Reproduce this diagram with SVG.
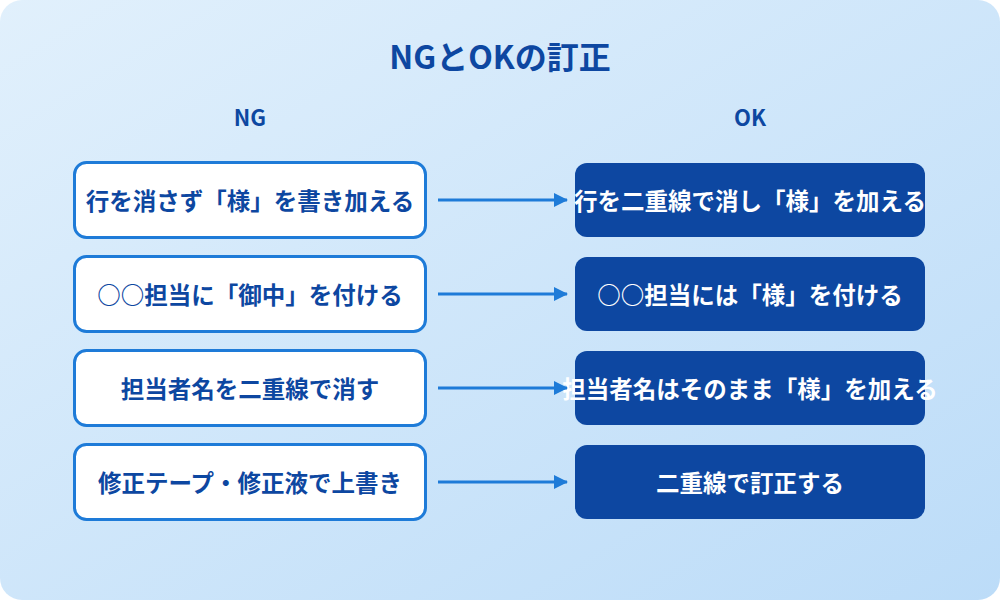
<svg xmlns="http://www.w3.org/2000/svg" width="1000" height="600" viewBox="0 0 1000 600">
<defs>
<linearGradient id="bg" x1="0" y1="0" x2="1" y2="1"><stop offset="0" stop-color="#e1f0fc"/><stop offset="1" stop-color="#bcdcf8"/></linearGradient>
<marker id="ah" markerWidth="14" markerHeight="14" refX="13" refY="7" orient="auto" markerUnits="userSpaceOnUse"><path d="M0,0 L14,7 L0,14 z" fill="#1e7bd8"/></marker>
<style>
text{font-family:"Noto Sans CJK JP","Noto Sans",sans-serif;font-weight:bold;text-anchor:middle;dominant-baseline:central}
.ng rect{fill:#fff;stroke:#1e7bd8;stroke-width:3}
.ng text{fill:#0d47a1;font-size:23.5px}
.ok rect{fill:#0d47a1}
.ok text{fill:#fff;font-size:23.5px}
.hd{fill:#0d47a1;font-size:22px}
#conn line{stroke:#1e7bd8;stroke-width:3;marker-end:url(#ah)}
</style>
</defs>
<rect width="1000" height="600" rx="22" fill="url(#bg)"/>
<text x="500" y="55" class="hd" style="font-size:32px">NGとOKの訂正</text>
<text x="250" y="116" class="hd">NG</text>
<text x="750" y="116" class="hd">OK</text>
<g id="ng1" class="ng"><rect x="74.500" y="162.500" width="351" height="75" rx="12"/><text x="250" y="200">行を消さず「様」を書き加える</text></g>
<g id="ng2" class="ng"><rect x="74.500" y="256.500" width="351" height="75" rx="12"/><text x="250" y="294">○○担当に「御中」を付ける</text></g>
<g id="ng3" class="ng"><rect x="74.500" y="350.500" width="351" height="75" rx="12"/><text x="250" y="388">担当者名を二重線で消す</text></g>
<g id="ng4" class="ng"><rect x="74.500" y="444.500" width="351" height="75" rx="12"/><text x="250" y="482">修正テープ・修正液で上書き</text></g>
<g id="ok1" class="ok"><rect x="575" y="163" width="350" height="74" rx="12"/><text x="750" y="200">行を二重線で消し「様」を加える</text></g>
<g id="ok2" class="ok"><rect x="575" y="257" width="350" height="74" rx="12"/><text x="750" y="294">○○担当には「様」を付ける</text></g>
<g id="ok3" class="ok"><rect x="575" y="351" width="350" height="74" rx="12"/><text x="750" y="388">担当者名はそのまま「様」を加える</text></g>
<g id="ok4" class="ok"><rect x="575" y="445" width="350" height="74" rx="12"/><text x="750" y="482">二重線で訂正する</text></g>
<g id="conn">
<line x1="438" y1="200" x2="567" y2="200"/>
<line x1="438" y1="294" x2="567" y2="294"/>
<line x1="438" y1="388" x2="567" y2="388"/>
<line x1="438" y1="482" x2="567" y2="482"/>
</g>
</svg>
